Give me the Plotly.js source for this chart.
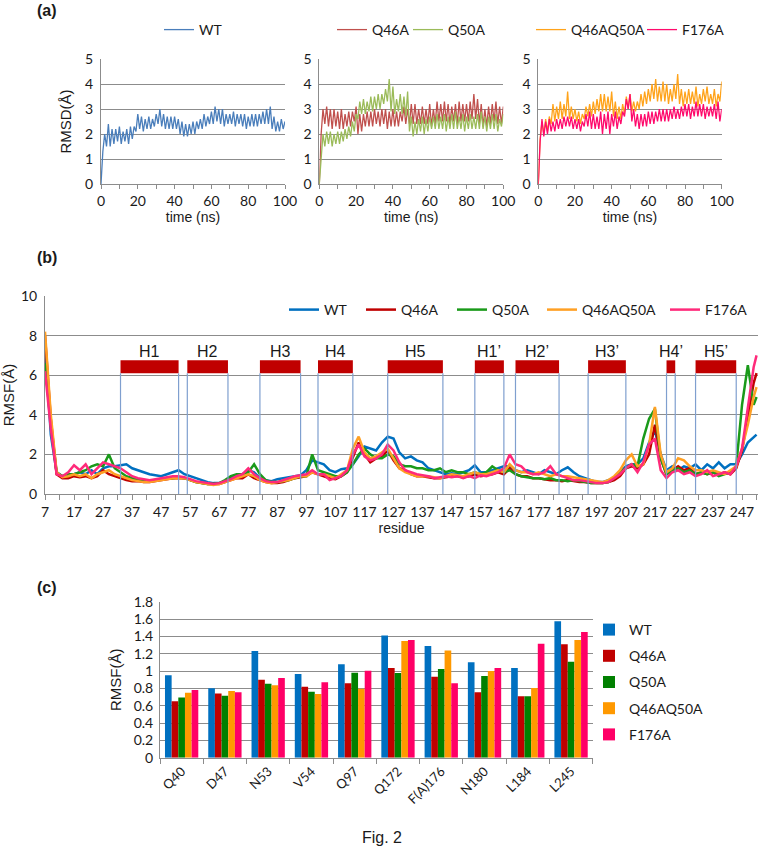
<!DOCTYPE html>
<html><head><meta charset="utf-8">
<script src="https://cdn.plot.ly/plotly-3.0.1.min.js"></script>
<style>html,body{margin:0;padding:0;background:#fff}#chart{width:760px;height:848px}</style>
</head><body><div id="chart"></div>
<script>
// ---------- Panel (a): RMSD vs time (upper / lower envelope) ----------
const tHi = [0,2,4,6,8,10,12,14,16,18,20,22,24,26,28,30,32,34,36,38,40,42,44,46,48,50,52,54,56,58,60,62,64,66,68,70,72,74,76,78,80,82,84,86,88,90,92,94,96,98,100];
const tLo = [1,3,5,7,9,11,13,15,17,19,21,23,25,27,29,31,33,35,37,39,41,43,45,47,49,51,53,55,57,59,61,63,65,67,69,71,73,75,77,79,81,83,85,87,89,91,93,95,97,99];

const wtHi = [0,2.0,2.4,2.2,2.2,2.3,2.1,2.2,2.3,2.3, 2.8,2.7,2.6,2.7,2.6,2.8,3.0,2.8,2.7,2.7, 2.7,2.6,2.5,2.4,2.4,2.5,2.5,2.6,2.8,2.7, 2.9,3.1,3.0,3.0,2.8,2.8,2.9,2.8,2.8,2.8, 2.7,2.8,2.8,2.8,2.9,3.0,3.1,2.7,2.5,2.6, 2.5];
const wtLo = [1.3,1.5,1.5,1.6,1.7,1.6,1.7,1.6,1.8,2.1, 2.2,2.1,2.2,2.2,2.3,2.4,2.3,2.2,2.2,2.2, 2.2,2.0,1.9,1.9,2.0,2.0,2.2,2.2,2.3,2.4, 2.4,2.5,2.4,2.3,2.4,2.4,2.3,2.4,2.3,2.2, 2.3,2.3,2.3,2.4,2.4,2.4,2.2,2.1,2.1,2.2];

const q46Hi = [0,3.0,3.1,3.0,3.0,2.9,3.0,2.8,2.9,2.9, 3.1,2.8,2.8,2.9,2.9,3.0,2.9,3.0,3.0,2.9, 3.0,2.9,2.9,3.1,3.0,3.2,3.2,3.0,3.1,3.0, 3.2,3.0,3.3,3.2,3.3,3.2,3.1,3.2,3.3,3.2, 3.2,3.3,3.6,3.4,3.2,3.0,3.1,3.2,3.3,3.1, 3.1];
const q46Lo = [2.0,2.4,2.3,2.2,2.3,2.2,2.2,2.3,2.3,2.5, 2.0,2.1,2.3,2.3,2.3,2.4,2.3,2.4,2.2,2.3, 2.3,2.3,2.5,2.4,2.4,2.4,2.4,2.4,2.4,2.4, 2.3,2.4,2.5,2.5,2.5,2.4,2.5,2.4,2.5,2.5, 2.5,2.6,2.6,2.4,2.3,2.3,2.4,2.5,2.4,2.4];

const q50Hi = [0,2.0,2.1,2.1,2.0,2.1,2.1,2.2,2.3,2.5, 2.8,3.3,3.4,3.3,3.5,3.5,3.6,3.6,3.8,4.2, 3.9,3.4,3.6,3.5,3.7,2.7,2.5,2.6,2.7,2.6, 2.7,2.7,2.8,2.7,2.8,2.7,2.8,2.9,2.7,2.8, 2.7,2.8,2.7,2.8,2.9,2.7,2.7,2.8,2.8,2.6, 2.8];
const q50Lo = [1.2,1.5,1.6,1.5,1.6,1.6,1.7,1.8,1.9,2.1, 2.6,2.8,2.8,2.9,2.9,3.0,3.0,3.2,3.3,2.9, 2.8,2.9,2.8,2.7,2.1,1.9,2.0,2.1,2.0,2.1, 2.2,2.2,2.2,2.2,2.1,2.2,2.2,2.2,2.2,2.1, 2.2,2.2,2.2,2.2,2.2,2.1,2.2,2.2,2.1,2.3];

const dblHi = [0,2.5,2.6,2.7,3.2,3.1,3.3,3.2,3.7,3.1, 3.0,2.9,2.8,3.1,3.2,3.3,3.4,3.6,3.6,3.5, 3.7,3.3,3.1,3.2,3.5,3.6,3.3,3.3,3.6,3.7, 3.8,4.0,4.2,3.9,4.1,4.0,3.8,4.0,4.4,3.8, 3.7,3.8,3.7,3.9,3.6,3.8,3.9,3.6,3.8,3.6, 4.1];
const dblLo = [1.8,2.0,2.1,2.4,2.5,2.6,2.6,2.7,2.6,2.6, 2.5,2.4,2.6,2.7,2.7,2.8,2.9,2.9,2.9,2.9, 2.7,2.6,2.6,2.8,3.0,2.9,2.9,3.0,3.1,3.2, 3.3,3.4,3.3,3.3,3.3,3.2,3.3,3.4,3.2,3.1, 3.2,3.2,3.2,3.1,3.2,3.3,3.2,3.2,3.1,3.3];

const f176Hi = [0,2.6,2.5,2.6,2.5,2.6,2.6,2.7,2.7,2.7, 2.6,2.6,2.5,2.8,2.9,2.8,2.7,2.9,2.8,2.9, 2.8,2.9,2.7,2.9,3.4,3.6,3.0,2.8,2.8,2.8, 2.9,2.9,2.9,3.0,3.0,3.0,3.0,3.1,3.0,3.1, 3.2,3.2,3.1,3.3,3.2,3.2,3.1,3.1,3.2,3.3, 3.0];
const f176Lo = [1.7,1.9,2.0,2.1,2.1,2.2,2.2,2.3,2.3,2.2, 2.2,2.1,2.3,2.3,2.2,2.2,2.2,2.0,2.2,2.0, 2.3,2.2,2.4,2.7,3.0,2.5,2.3,2.2,2.3,2.3, 2.4,2.4,2.5,2.5,2.5,2.5,2.6,2.6,2.6,2.7, 2.7,2.6,2.7,2.7,2.7,2.6,2.7,2.7,2.6,2.5];

// ---------- Panel (b): RMSF per residue ----------
const residues = [7,9,11,13,15,17,19,21,23,25,27,29,31,33,35,37,39,41,43,45,47,49,51,53,55,57,59,61,63,65,67,69,71,73,75,77,79,81,83,85,87,89,91,93,95,97,99,101,103,105,107,109,111,113,115,117,119,121,123,125,127,129,131,133,135,137,139,141,143,145,147,149,151,153,155,157,159,161,163,165,167,169,171,173,175,177,179,181,183,185,187,189,191,193,195,197,199,201,203,205,207,209,211,213,215,217,219,221,223,225,227,229,231,233,235,237,239,241,243,245,247,249,251,252];

const rmsfWT = [7.5,3.0,1.1,0.9,1.0,1.0,1.1,1.0,1.2,1.0, 1.3,1.4,1.4,1.45,1.5,1.3,1.2,1.1,1.0,0.95, 0.9,1.0,1.1,1.2,1.0,0.9,0.8,0.7,0.6,0.55, 0.55,0.65,0.8,0.9,1.0,1.2,1.1,0.8,0.7,0.65, 0.75,0.8,0.85,0.9,0.95,1.2,1.7,1.6,1.5,1.2, 1.1,1.25,1.3,1.5,1.9,2.4,2.3,2.2,2.6,2.9, 2.8,2.1,1.8,1.9,1.7,1.6,1.3,1.2,1.1,1.0, 1.05,1.0,1.1,1.2,1.45,1.1,1.1,1.2,1.3,1.4, 1.4,1.2,1.1,1.2,1.1,1.0,1.2,1.1,1.0,1.2, 1.35,1.1,0.9,0.8,0.7,0.6,0.6,0.7,0.8,1.1, 1.4,1.5,1.5,1.8,2.6,3.2,2.0,1.2,1.4,1.2, 1.4,1.3,1.5,1.2,1.5,1.3,1.6,1.3,1.5,1.5, 2.0,2.6,2.9,3.0];
const rmsfQ46A = [8.0,3.8,1.0,0.8,0.8,0.9,0.85,0.9,0.8,0.9, 1.2,1.0,0.9,0.8,0.7,0.65,0.65,0.6,0.6,0.65, 0.7,0.75,0.8,0.8,0.8,0.7,0.6,0.55,0.5,0.5, 0.5,0.6,0.7,0.8,0.8,1.0,0.8,0.7,0.6,0.55, 0.55,0.6,0.7,0.8,0.85,0.9,1.1,1.0,0.9,0.8, 0.75,0.9,1.1,1.9,2.6,2.0,1.6,1.8,1.9,2.2, 1.7,1.3,1.2,1.0,0.9,0.9,0.85,0.8,0.8,0.85, 0.9,0.9,0.85,0.9,1.0,0.9,0.95,1.0,1.1,1.0, 1.3,1.0,0.9,0.9,0.8,0.8,0.75,0.7,0.7,0.65, 0.7,0.65,0.6,0.6,0.55,0.55,0.55,0.6,0.7,0.9, 1.3,1.4,1.3,1.5,2.0,3.5,1.8,1.0,1.2,1.4, 1.2,1.3,1.0,1.1,1.0,1.1,1.0,1.1,1.0,1.3, 2.2,3.8,5.6,6.1];
const rmsfQ50A = [6.6,3.5,1.1,0.9,1.0,1.0,1.1,1.2,1.4,1.5, 1.4,2.0,1.3,1.1,0.9,0.8,0.75,0.7,0.65,0.7, 0.75,0.8,0.8,0.85,0.8,0.7,0.6,0.55,0.5,0.5, 0.55,0.7,0.9,1.0,1.0,1.1,1.5,1.0,0.7,0.6, 0.6,0.65,0.7,0.8,0.9,0.9,2.0,1.2,1.1,1.0, 0.9,0.9,1.1,1.5,2.0,2.3,2.0,1.8,1.8,2.0, 1.9,1.5,1.4,1.4,1.3,1.3,1.2,1.2,1.3,1.1, 1.2,1.1,1.1,1.0,1.1,1.0,1.1,1.4,1.2,1.1, 1.2,1.0,0.9,0.85,0.8,0.8,0.75,0.8,0.7,0.7, 0.65,0.7,0.65,0.6,0.55,0.55,0.55,0.6,0.8,1.1, 1.3,1.5,1.4,2.8,3.8,4.3,1.8,1.0,1.2,1.3, 1.1,1.2,1.0,1.1,1.0,1.1,0.9,1.0,1.1,1.4, 4.5,6.5,4.5,4.9];
const rmsfDbl = [8.2,4.0,1.1,0.85,0.9,1.0,0.9,1.0,0.8,1.0, 1.1,1.2,1.0,0.9,0.8,0.7,0.65,0.6,0.6,0.65, 0.7,0.75,0.8,0.8,0.8,0.7,0.6,0.55,0.5,0.45, 0.5,0.6,0.7,0.8,0.9,1.0,0.9,0.7,0.6,0.55, 0.6,0.65,0.7,0.8,0.9,0.9,1.1,1.0,1.0,0.9, 0.8,1.0,1.2,2.3,2.9,2.1,1.8,1.9,2.1,2.3, 1.8,1.3,1.1,1.0,0.9,0.9,0.9,0.85,0.8,0.9, 1.0,0.95,0.9,1.0,1.1,1.0,1.0,1.1,1.2,1.1, 1.5,1.2,1.1,1.1,1.0,1.1,1.0,0.9,1.0,0.9, 0.9,0.85,0.8,0.75,0.7,0.65,0.6,0.7,0.9,1.2, 1.7,2.0,1.4,1.5,2.5,4.4,2.0,1.1,1.3,1.8, 1.7,1.4,1.2,1.2,1.1,1.2,1.1,1.0,1.2,1.4, 2.3,3.5,4.9,5.4];
const rmsfF176A = [6.2,3.3,1.0,0.9,1.1,1.45,1.2,1.5,1.0,1.3, 1.6,1.5,1.4,1.3,1.1,0.9,0.8,0.75,0.7,0.75, 0.8,0.85,0.9,0.9,0.85,0.75,0.65,0.6,0.55,0.5, 0.55,0.65,0.75,0.9,1.0,1.3,1.0,0.8,0.65,0.6, 0.6,0.7,0.8,0.9,0.95,1.0,1.2,1.0,1.0,0.7, 0.8,0.9,1.2,2.0,2.5,1.9,1.7,1.8,2.0,2.5, 2.2,1.6,1.2,1.1,1.0,0.95,0.9,0.8,0.85,0.9, 0.85,0.9,0.8,0.9,0.8,0.95,0.9,1.0,1.1,1.3, 2.0,1.5,1.4,1.1,1.0,1.0,1.1,1.4,1.0,0.9, 0.8,0.7,0.7,0.65,0.6,0.55,0.55,0.6,0.8,1.0, 1.3,1.5,1.1,1.6,2.5,2.8,1.2,0.8,1.1,1.2, 1.0,1.1,0.9,1.0,1.2,0.9,1.0,1.1,1.0,1.4, 2.3,4.4,6.4,7.0];

const helixNames = ['H1','H2','H3','H4','H5','H1\u2019','H2\u2019','H3\u2019','H4\u2019','H5\u2019'];
const helixStart = [33,56,81,101,125,155,169,194,221,231];
const helixEnd   = [53,70,95,113,144,165,184,207,224,245];

// ---------- Panel (c): RMSF of selected residues ----------
const resCats = ['Q40','D47','N53','V54','Q97','Q172','F(A)176','N180','L184','L245'];
const barWT   = [0.95,0.80,1.23,0.965,1.077,1.41,1.288,1.10,1.035,1.573];
const barQ46A = [0.65,0.74,0.90,0.82,0.86,1.035,0.935,0.754,0.71,1.31];
const barQ50A = [0.696,0.715,0.854,0.76,0.98,0.977,1.023,0.942,0.71,1.108];
const barDbl  = [0.75,0.77,0.835,0.735,0.796,1.346,1.238,1.0,0.804,1.358];
const barF176A= [0.78,0.754,0.92,0.87,1.004,1.358,0.858,1.035,1.315,1.45];

const seriesNames = ['WT','Q46A','Q50A','Q46AQ50A','F176A'];

// ---------- styling ----------
const W = 760, H = 848;
const fx = p => p / W, fy = p => 1 - p / H;
const GRID = '#8c8c8c', TXT = '#1a1a1a';
const TICKF = {family: 'Lato, "Open Sans", sans-serif', size: 14, color: TXT};
const LEGF = {family: 'Lato, "Open Sans", sans-serif', size: 14, color: TXT};
const TITF = {family: '"Liberation Sans", Arial, sans-serif', size: 14, color: TXT};
const colA = ['#4a7ebb','#c0504d','#9bbb59','#ffa31a','#ff0a6c'];
const colB = ['#0070c0','#c00000','#1a9a1a','#ffa024','#ff2a7a'];
const colC = ['#0070c0','#c00000','#008000','#ff9900','#ff0066'];

function band(hi, lo) {
  const x = [], y = [];
  for (let i = 0; i < tHi.length; i++) {
    x.push(tHi[i]); y.push(hi[i]);
    if (i < tLo.length) { x.push(tLo[i]); y.push(lo[i]); }
  }
  return {x, y};
}

const traces = [];
const aSets = [[wtHi, wtLo, 'x', 'y'], [q46Hi, q46Lo, 'x2', 'y2'], [q50Hi, q50Lo, 'x2', 'y2'], [dblHi, dblLo, 'x3', 'y3'], [f176Hi, f176Lo, 'x3', 'y3']];
const aLegW = [128, 31, 78, 66, 60];
aSets.forEach((s, i) => {
  const b = band(s[0], s[1]);
  traces.push({type: 'scatter', mode: 'lines', x: b.x, y: b.y, xaxis: s[2], yaxis: s[3],
    name: seriesNames[i], line: {color: colA[i], width: 1.3}, legend: 'legend', legendwidth: aLegW[i], hoverinfo: 'skip'});
});

const bVals = [rmsfWT, rmsfQ46A, rmsfQ50A, rmsfDbl, rmsfF176A];
const bLegW = [32, 46, 45, 78, 60];
bVals.forEach((v, i) => {
  traces.push({type: 'scatter', mode: 'lines', x: residues, y: v, xaxis: 'x4', yaxis: 'y4',
    name: seriesNames[i], line: {color: colB[i], width: 2.5}, legend: 'legend2', legendwidth: bLegW[i], hoverinfo: 'skip'});
});

const cVals = [barWT, barQ46A, barQ50A, barDbl, barF176A];
cVals.forEach((v, i) => {
  traces.push({type: 'bar', x: resCats, y: v, xaxis: 'x5', yaxis: 'y5', name: seriesNames[i],
    marker: {color: colC[i], line: {width: 0}}, legend: 'legend3', legendgroup: 'c' + i, hoverinfo: 'skip'});
});

function xA(dom, anchor) {
  return {domain: dom, anchor: anchor, range: [0, 100], tickmode: 'array',
    tickvals: [0,10,20,30,40,50,60,70,80,90,100], ticktext: ['0','','20','','40','','60','','80','','100'],
    ticks: 'outside', ticklen: 4, tickcolor: GRID, showline: true, linecolor: GRID, linewidth: 1,
    showgrid: false, zeroline: false, tickfont: TICKF, fixedrange: true,
    title: {text: 'time (ns)', font: TITF, standoff: 3}};
}
function yA(dom, anchor, title) {
  const o = {domain: dom, anchor: anchor, range: [0, 5], dtick: 1, showgrid: true, gridcolor: GRID, gridwidth: 1,
    showline: true, linecolor: GRID, ticks: '', zeroline: false, tickfont: TICKF, fixedrange: true, ticklabelstandoff: 4};
  if (title) o.title = {text: title, font: {family: TITF.family, size: 15, color: TXT}, standoff: 9};
  return o;
}
const yDomA = [fy(184), fy(59)];

const shapes = [], annotations = [];
helixNames.forEach((n, i) => {
  shapes.push({type: 'rect', xref: 'x4', yref: 'y4', x0: helixStart[i], x1: helixEnd[i], y0: 6.1, y1: 6.75,
    fillcolor: '#c00000', line: {width: 0}, layer: 'above'});
  [helixStart[i], helixEnd[i]].forEach(xv => shapes.push({type: 'line', xref: 'x4', yref: 'y4', x0: xv, x1: xv, y0: 0, y1: 6.1,
    line: {color: '#7f9fcf', width: 1.2}, layer: 'above'}));
  annotations.push({xref: 'x4', yref: 'y4', x: (helixStart[i] + helixEnd[i]) / 2, y: 7.2, text: n, showarrow: false,
    font: {family: TITF.family, size: 16, color: TXT}});
});
[['(a)', 11], ['(b)', 257], ['(c)', 587]].forEach(p => annotations.push({xref: 'paper', yref: 'paper', x: fx(35), y: fy(p[1]),
  xanchor: 'left', yanchor: 'middle', text: '<b>' + p[0] + '</b>', showarrow: false, font: {family: TITF.family, size: 16, color: TXT}}));
annotations.push({xref: 'paper', yref: 'paper', x: fx(382), y: fy(837), xanchor: 'center', yanchor: 'middle', text: 'Fig. 2',
  showarrow: false, font: {family: TITF.family, size: 16, color: TXT}});

const layout = {
  width: W, height: H, margin: {l: 0, r: 0, t: 0, b: 0, autoexpand: false}, paper_bgcolor: '#fff', plot_bgcolor: 'rgba(0,0,0,0)',
  showlegend: true, barmode: 'group', bargap: 0.23, bargroupgap: 0,
  xaxis: xA([fx(101), fx(285)], 'y'), yaxis: yA(yDomA, 'x', 'RMSD(\u00c5)'),
  xaxis2: xA([fx(319.3), fx(503.3)], 'y2'), yaxis2: yA(yDomA, 'x2'),
  xaxis3: xA([fx(538.3), fx(721.7)], 'y3'), yaxis3: yA(yDomA, 'x3'),
  xaxis4: {domain: [fx(45), fx(758)], anchor: 'y4', range: [7, 252.5], tick0: 7, dtick: 10, ticks: 'outside', ticklen: 5,
    tickcolor: GRID, showline: true, linecolor: GRID, showgrid: false, zeroline: false, tickfont: TICKF, fixedrange: true,
    minor: {tick0: 7, dtick: 5, ticks: 'outside', ticklen: 5, tickcolor: GRID, showgrid: false},
    title: {text: 'residue', font: TITF, standoff: 3}},
  yaxis4: {domain: [fy(494), fy(296)], anchor: 'x4', range: [0, 10], dtick: 2, showgrid: true, gridcolor: GRID,
    showline: true, linecolor: GRID, ticks: '', zeroline: false, tickfont: TICKF, fixedrange: true, ticklabelstandoff: 4,
    title: {text: 'RMSF(\u00c5)', font: {family: TITF.family, size: 15, color: TXT}, standoff: 5}},
  xaxis5: {domain: [fx(160), fx(592.7)], anchor: 'y5', type: 'category', tickson: 'boundaries', ticks: 'outside', ticklen: 5,
    tickcolor: GRID, showline: true, linecolor: GRID, showgrid: false, zeroline: false, tickangle: -45,
    tickfont: {family: TICKF.family, size: 13, color: TXT}, fixedrange: true},
  yaxis5: {domain: [fy(757.7), fy(601.7)], anchor: 'x5', range: [0, 1.8], dtick: 0.2, showgrid: true, gridcolor: GRID,
    showline: true, linecolor: GRID, ticks: '', zeroline: false, tickfont: TICKF, fixedrange: true, ticklabelstandoff: 3,
    title: {text: 'RMSF(\u00c5)', font: {family: TITF.family, size: 15, color: TXT}, standoff: 8}},
  legend: {orientation: 'h', x: fx(159), y: fy(30), xanchor: 'left', yanchor: 'middle', font: LEGF, bgcolor: 'rgba(0,0,0,0)', traceorder: 'normal'},
  legend2: {orientation: 'h', x: fx(284), y: fy(310), xanchor: 'left', yanchor: 'middle', font: LEGF, bgcolor: 'rgba(0,0,0,0)', traceorder: 'normal'},
  legend3: {orientation: 'v', x: fx(589), y: fy(614), xanchor: 'left', yanchor: 'top', font: LEGF, bgcolor: 'rgba(0,0,0,0)',
    traceorder: 'grouped', tracegroupgap: 5},
  shapes: shapes, annotations: annotations
};

Plotly.newPlot('chart', traces, layout, {staticPlot: true, displayModeBar: false});
</script></body></html>
